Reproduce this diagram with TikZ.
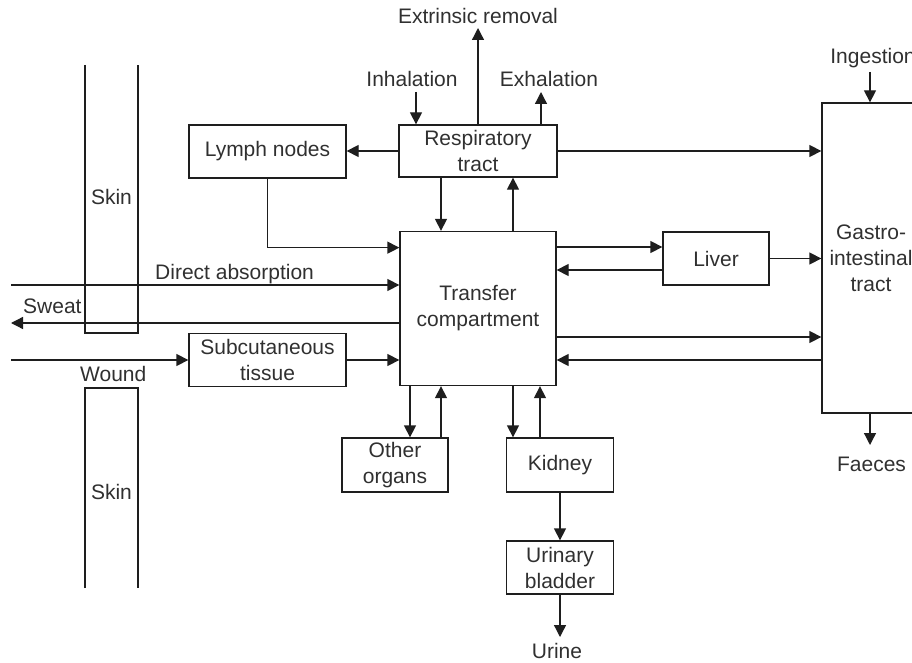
\documentclass[tikz,border=0pt]{standalone}
\usepackage{fontspec}
\setmainfont{Liberation Sans}
\usetikzlibrary{arrows.meta}
\definecolor{ln}{HTML}{1E1E1E}
\definecolor{txt}{HTML}{303030}
\begin{document}
\begin{tikzpicture}[x=1pt,y=-1pt,
  every node/.style={font=\fontsize{21}{26}\selectfont, text=txt},
  box/.style={draw=ln, line width=1.3pt, inner sep=0pt, align=center},
  wire/.style={draw=ln, line width=1.3pt},
  arr/.style={wire, -{Triangle[length=12pt,width=12pt]}},
  lbl/.style={inner sep=0pt, anchor=base}
]
\useasboundingbox (0,0) rectangle (912,663);

% skin layers, open at the outer ends
\draw[wire] (85,65) -- (85,333) -- (138,333) -- (138,65);
\draw[wire] (85,588) -- (85,388) -- (138,388) -- (138,588);
\node (skinA) at (111.5,197) {Skin};
\node (skinB) at (111.5,492) {Skin};

% compartments
\node[box, minimum width=157pt, minimum height=53pt] (lymph) at (267.5,151.5) {Lymph nodes};
\node[box, minimum width=158pt, minimum height=52pt] (resp) at (478,151) {Respiratory\\tract};
\node[box, minimum width=156pt, minimum height=154pt] (transfer) at (478,308.5) {Transfer\\compartment};
\node[box, minimum width=106pt, minimum height=53pt] (liver) at (716,258.5) {Liver};
\node[box, minimum width=157pt, minimum height=53pt] (subcut) at (267.5,360) {Subcutaneous\\tissue};
\node[box, minimum width=106pt, minimum height=54pt] (other) at (395,465) {Other\\organs};
\node[box, minimum width=107pt, minimum height=54pt] (kidney) at (560,465) {Kidney};
\node[box, minimum width=107pt, minimum height=53pt] (bladder) at (560,567.5) {Urinary\\bladder};
\node[box, minimum width=98pt, minimum height=310pt] (gi) at (871,258) {Gastro-\\intestinal\\tract};

% free labels
\node[lbl] (extr) at (478,24) {Extrinsic removal};
\node[lbl] (inhal) at (412,87) {Inhalation};
\node[lbl] (exhal) at (549,87) {Exhalation};
\node[lbl] (ingest) at (873,64) {Ingestion};
\node[lbl] (faeces) at (871.5,471) {Faeces};
\node[lbl] (urine) at (557,658) {Urine};
\node[lbl, anchor=base west] (dirlbl) at (155,279) {Direct absorption};
\node[lbl, anchor=base west] (sweatlbl) at (23,313) {Sweat};
\node[lbl, anchor=base west] (woundlbl) at (80,381) {Wound};

% outer ends of the skin routes and the open flows
\coordinate (dirIn) at (11,285);
\coordinate (sweatOut) at (11,323);
\coordinate (woundIn) at (11,360);
\coordinate (extrTop) at (478,28);
\coordinate (inhalTop) at (416,92);
\coordinate (exhalTop) at (541,92);
\coordinate (ingestTop) at (870,72);
\coordinate (faecesEnd) at (870,445);
\coordinate (urineEnd) at (560,637);

% skin routes
\draw[arr] (dirIn) -- (dirIn -| transfer.west);
\draw[arr] (sweatOut -| transfer.west) -- (sweatOut);
\draw[arr] (woundIn) -- (woundIn -| subcut.west);
\draw[arr] (subcut.east) -- (subcut.east -| transfer.west);

% respiratory tract
\draw[arr] (inhalTop) -- (inhalTop |- resp.north);
\draw[arr] (resp.north) -- (extrTop);
\draw[arr] (exhalTop |- resp.north) -- (exhalTop);
\draw[arr] (resp.west) -- (resp.west -| lymph.east);
\draw[arr] (resp.east) -- (resp.east -| gi.west);
\draw[arr] ([xshift=-37pt]resp.south) -- ([xshift=-37pt]resp.south |- transfer.north);
\draw[arr] ([xshift=35pt]resp.south |- transfer.north) -- ([xshift=35pt]resp.south);
\draw[arr] (lymph.south) |- ([yshift=-69pt]lymph.south -| transfer.west);

% liver and gastrointestinal tract
\draw[arr] ([yshift=11.5pt]liver.west -| transfer.east) -- ([yshift=11.5pt]liver.west);
\draw[arr] ([yshift=-11.5pt]liver.west) -- ([yshift=-11.5pt]liver.west -| transfer.east);
\draw[arr] (liver.east) -- (liver.east -| gi.west);
\draw[arr] ([yshift=-28.5pt]transfer.east) -- ([yshift=-28.5pt]transfer.east -| gi.west);
\draw[arr] ([yshift=-51.5pt]transfer.east -| gi.west) -- ([yshift=-51.5pt]transfer.east);
\draw[arr] (ingestTop) -- (ingestTop |- gi.north);
\draw[arr] (faecesEnd |- gi.south) -- (faecesEnd);

% other organs, kidney and bladder
\draw[arr] ([xshift=15pt]other.north |- transfer.south) -- ([xshift=15pt]other.north);
\draw[arr] ([xshift=46pt]other.north) -- ([xshift=46pt]other.north |- transfer.south);
\draw[arr] ([xshift=-47pt]kidney.north |- transfer.south) -- ([xshift=-47pt]kidney.north);
\draw[arr] ([xshift=-20pt]kidney.north) -- ([xshift=-20pt]kidney.north |- transfer.south);
\draw[arr] (kidney.south) -- (bladder.north);
\draw[arr] (bladder.south) -- (urineEnd);
\end{tikzpicture}
\end{document}
